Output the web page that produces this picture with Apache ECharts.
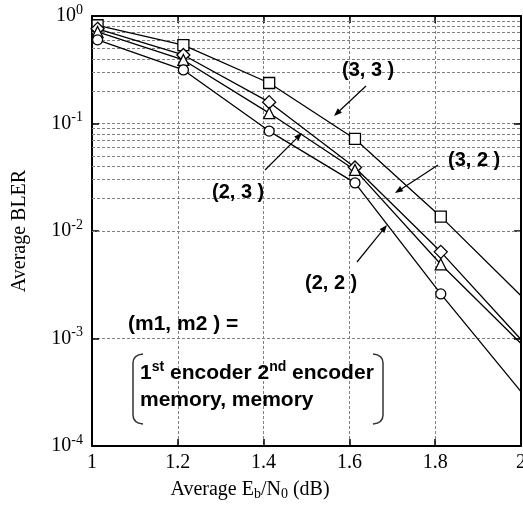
<!DOCTYPE html>
<html>
<head>
<meta charset="utf-8">
<script src="https://cdn.jsdelivr.net/npm/echarts@6/dist/echarts.min.js"></script>
<style>html,body{margin:0;padding:0;background:#fff}#c{width:523px;height:506px}</style>
</head>
<body>
<div id="c"></div>
<script>
// ---- data ----
const snr = [1.013, 1.213, 1.413, 1.613, 1.813, 2.0];
const bler33 = [0.82, 0.535, 0.238, 0.0718, 0.0136, 0.0025];   // (3,3) square
const bler32 = [0.76, 0.434, 0.158, 0.039, 0.0064, 0.00098];   // (3,2) diamond
const bler23 = [0.71, 0.39, 0.125, 0.037, 0.0049, 0.00090];    // (2,3) triangle
const bler22 = [0.60, 0.315, 0.085, 0.028, 0.0026, 0.00032];   // (2,2) circle
const xTicks = [1, 1.2, 1.4, 1.6, 1.8, 2];
const decades = [1e-4, 1e-3, 1e-2, 1e-1];

const serif = '"Liberation Serif","Times New Roman",serif';
const sans = '"Liberation Sans",Arial,Helvetica,sans-serif';

function mk(vals, symbol, size) {
  return {
    type: 'line',
    data: vals.map((v, i) => i === vals.length - 1 ? {value: [snr[i], v], symbol: 'none'} : [snr[i], v]),
    symbol: symbol, symbolSize: size, showAllSymbol: true,
    itemStyle: {color: '#fff', borderColor: '#000', borderWidth: 1.3},
    lineStyle: {color: '#000', width: 1.3},
    z: 5, clip: true, animation: false
  };
}

const minorVals = [];
decades.forEach(d => { for (let k = 2; k <= 9; k++) minorVals.push(d * k); });

const gridLine = {color: '#808080', type: [3, 2], width: 1};

const series = [
  mk(bler33, 'rect', 11),
  mk(bler32, 'diamond', 13),
  mk(bler23, 'triangle', 11),
  mk(bler22, 'circle', 10),
  {
    type: 'line', data: [], silent: true, animation: false,
    markLine: {
      silent: true, symbol: 'none', label: {show: false},
      lineStyle: gridLine, animation: false,
      data: minorVals.map(v => ({yAxis: v}))
    }
  }
];

function arrow(x1, y1, x2, y2) {
  const a = Math.atan2(y2 - y1, x2 - x1), L = 8, W = 3;
  const bx = x2 - L * Math.cos(a), by = y2 - L * Math.sin(a);
  const px = -Math.sin(a) * W, py = Math.cos(a) * W;
  return [
    {type: 'line', shape: {x1: x1, y1: y1, x2: bx, y2: by}, style: {stroke: '#000', lineWidth: 1.2}, z: 10},
    {type: 'polygon', shape: {points: [[x2, y2], [bx + px, by + py], [bx - px, by - py]]}, style: {fill: '#000'}, z: 10}
  ];
}
function label(text, x, y) {
  return {type: 'text', x: x, y: y, z: 10, style: {text: text, font: 'bold 20px ' + sans, fill: '#000', verticalAlign: 'middle'}};
}
function bracket(xv, xe, yt, yb) {
  const st = {fill: 'none', stroke: '#333', lineWidth: 1.5};
  return [
    {type: 'bezierCurve', z: 10, shape: {x1: xe, y1: yt, x2: xv, y2: yt + 9, cpx1: xv, cpy1: yt + 1}, style: st},
    {type: 'line', z: 10, shape: {x1: xv, y1: yt + 9, x2: xv, y2: yb - 9}, style: st},
    {type: 'bezierCurve', z: 10, shape: {x1: xv, y1: yb - 9, x2: xe, y2: yb, cpx1: xv, cpy1: yb - 1}, style: st}
  ];
}

const graphics = [
  label('(3, 3 )', 342, 70),
  label('(2, 3 )', 212, 192),
  label('(3, 2 )', 448, 160),
  label('(2, 2 )', 305, 283),
  ...arrow(366, 86, 334, 116),
  ...arrow(265, 170, 302, 133),
  ...arrow(438, 165, 395, 193),
  ...arrow(357, 262, 387, 225),
  {type: 'text', x: 128, y: 324, z: 10, style: {text: '(m1, m2 ) =', font: 'bold 21px ' + sans, fill: '#000', verticalAlign: 'middle'}},
  {type: 'text', x: 140, y: 373, z: 10, style: {
    text: '{a|1}{s|st}{a| encoder 2}{s|nd}{a| encoder}', verticalAlign: 'middle',
    rich: {a: {font: 'bold 21px ' + sans, fill: '#000'}, s: {font: 'bold 14px ' + sans, fill: '#000', padding: [0, 0, 12, 0]}}
  }},
  {type: 'text', x: 140, y: 400, z: 10, style: {text: 'memory, memory', font: 'bold 21px ' + sans, fill: '#000', verticalAlign: 'middle'}},
  ...bracket(133, 143, 354, 424),
  ...bracket(383, 373, 354, 424),
  {type: 'text', x: 20, y: 231, rotation: Math.PI / 2, z: 10, style: {text: 'Average BLER', font: '20px ' + serif, fill: '#000', align: 'center', verticalAlign: 'middle'}},
  {type: 'text', x: 250, y: 490, z: 10, style: {
    text: '{a|Average E}{b|b}{a|/N}{b|0}{a| (dB)}', align: 'center', verticalAlign: 'middle',
    rich: {a: {font: '20px ' + serif, fill: '#000'}, b: {font: '14px ' + serif, fill: '#000', padding: [9, 0, 0, 0]}}
  }}
];

const axisLineStyle = {show: true, lineStyle: {color: '#000', width: 2}};
const tickStyle = {show: true, inside: true, length: 7, lineStyle: {color: '#000', width: 1.5}};

const option = {
  animation: false,
  backgroundColor: '#fff',
  grid: {left: 92, top: 16, width: 429, height: 430, containLabel: false, outerBoundsMode: 'none'},
  xAxis: [
    {type: 'value', min: 1, max: 2, interval: 0.2, position: 'bottom',
     axisLine: axisLineStyle, axisTick: tickStyle,
     axisLabel: {color: '#000', fontFamily: serif, fontSize: 20, margin: 7,
       formatter: v => { const t = xTicks.find(x => Math.abs(x - v) < 1e-6); return t === undefined ? '' : (Number.isInteger(t) ? String(t) : t.toFixed(1)); }},
     splitLine: {show: true, lineStyle: gridLine}},
    {type: 'value', min: 1, max: 2, interval: 0.2, position: 'top',
     axisLine: axisLineStyle, axisTick: tickStyle, axisLabel: {show: false}, splitLine: {show: false}}
  ],
  yAxis: [
    {type: 'log', logBase: 10, min: 1e-4, max: 1, position: 'left',
     axisLine: axisLineStyle, axisTick: tickStyle,
     axisLabel: {margin: 9, formatter: v => '{a|10}{s|' + Math.round(Math.log10(v)) + '}',
       rich: {a: {fontFamily: serif, fontSize: 20, color: '#000'}, s: {fontFamily: serif, fontSize: 14, color: '#000', padding: [0, 0, 12, 0]}}},
     splitLine: {show: true, lineStyle: gridLine}},
    {type: 'log', logBase: 10, min: 1e-4, max: 1, position: 'right',
     axisLine: axisLineStyle, axisTick: tickStyle, axisLabel: {show: false}, splitLine: {show: false}}
  ],
  series: series,
  graphic: graphics
};

const chart = echarts.init(document.getElementById('c'), null, {renderer: 'canvas'});
chart.setOption(option);
</script>
</body>
</html>
